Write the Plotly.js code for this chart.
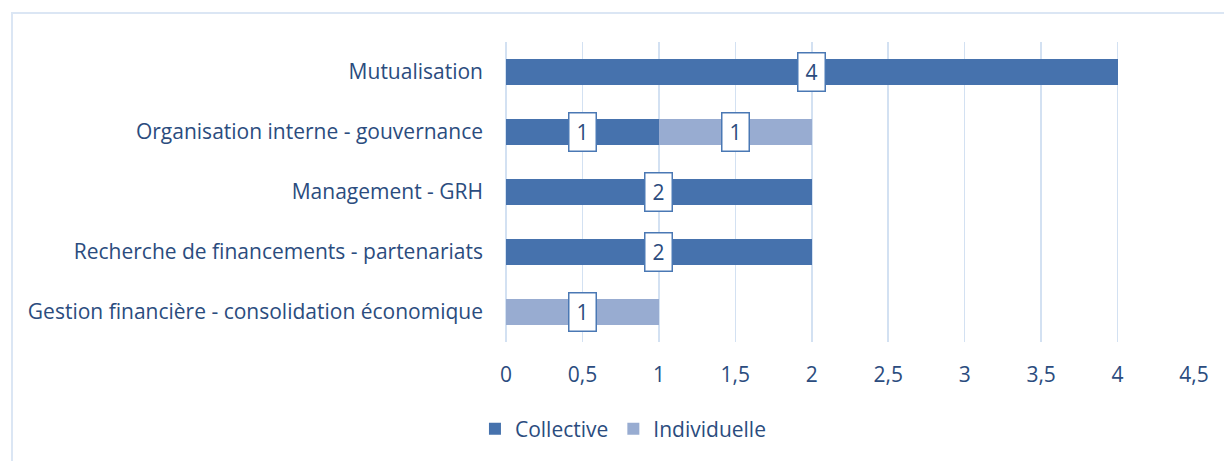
<!DOCTYPE html>
<html>
<head>
<meta charset="utf-8">
<script src="https://cdn.plot.ly/plotly-3.0.1.min.js"></script>
<style>
html,body{margin:0;padding:0;background:#fff;}
#chart{width:1224px;height:461px;position:relative;}
#frame{position:absolute;left:11px;top:12px;width:1240px;height:480px;border-left:2px solid #dbe6f4;border-top:2px solid #dbe6f4;pointer-events:none;}
#wrap{position:relative;width:1224px;height:461px;overflow:hidden;}
</style>
</head>
<body>
<div id="wrap"><div id="chart"></div><div id="frame"></div></div>
<script>
const categories = [
  "Mutualisation",
  "Organisation interne - gouvernance",
  "Management - GRH",
  "Recherche de financements - partenariats",
  "Gestion financière - consolidation économique"
];
const collective = [4, 1, 2, 2, 0];
const individuelle = [0, 1, 0, 0, 1];
const tickVals = [0, 0.5, 1, 1.5, 2, 2.5, 3, 3.5, 4, 4.5];
const tickText = ["0", "0,5", "1", "1,5", "2", "2,5", "3", "3,5", "4", "4,5"];

const textColor = "#2b4c7e";
const fontFam = "'Open Sans', sans-serif";
const fs = 21;

const traces = [
  {type: "bar", orientation: "h", name: "Collective", y: categories, x: collective,
   marker: {color: "#4672ad"}, hoverinfo: "x"},
  {type: "bar", orientation: "h", name: "Individuelle", y: categories, x: individuelle,
   marker: {color: "#98acd1"}, hoverinfo: "x"}
];

const annotations = [];
function addLabel(xv, yv, v) {
  annotations.push({x: xv, y: yv, xref: "x", yref: "y", text: String(v),
    showarrow: false, bgcolor: "#ffffff", bordercolor: "#4a78b4", borderwidth: 1.5, borderpad: 2,
    width: 22, height: 33, align: "center", valign: "middle",
    font: {family: fontFam, size: fs, color: textColor}});
}
categories.forEach((c, i) => {
  if (collective[i] > 0) addLabel(collective[i] / 2, c, collective[i]);
  if (individuelle[i] > 0) addLabel(collective[i] + individuelle[i] / 2, c, individuelle[i]);
});

const layout = {
  width: 1224, height: 461,
  margin: {l: 506, r: 30, t: 42, b: 114},
  paper_bgcolor: "rgba(0,0,0,0)", plot_bgcolor: "rgba(0,0,0,0)",
  barmode: "stack", bargap: 0.57,
  font: {family: fontFam, size: fs, color: textColor},
  xaxis: {range: [0, 4.5], tickvals: tickVals, ticktext: tickText, showgrid: true,
    gridcolor: "#d3e1f2", gridwidth: 1.5, zeroline: true, zerolinecolor: "#d3e1f2", zerolinewidth: 1.5,
    showline: false, ticks: "", ticklabelstandoff: 18, tickfont: {size: fs, color: textColor}, fixedrange: true},
  yaxis: {autorange: "reversed", showgrid: false, zeroline: false, showline: false, ticks: "",
    ticklabelstandoff: 22, tickfont: {size: fs, color: textColor}, fixedrange: true},
  showlegend: true,
  legend: {orientation: "h", traceorder: "normal", x: 0.17, xanchor: "center", y: -0.222, yanchor: "top",
    font: {size: fs, color: textColor}, itemwidth: 30, tracegroupgap: 0},
  annotations: annotations
};

Plotly.newPlot("chart", traces, layout, {displayModeBar: false, staticPlot: true});
</script>
</body>
</html>
